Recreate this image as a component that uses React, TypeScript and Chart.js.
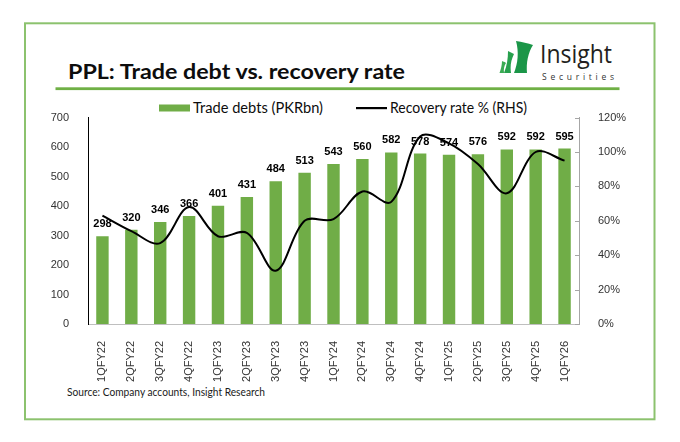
import React, { useEffect, useRef } from "react";
import { Chart, registerables } from "chart.js";

Chart.register(...registerables);

const categories = [
  "1QFY22", "2QFY22", "3QFY22", "4QFY22", "1QFY23", "2QFY23", "3QFY23", "4QFY23",
  "1QFY24", "2QFY24", "3QFY24", "4QFY24", "1QFY25", "2QFY25", "3QFY25", "4QFY25", "1QFY26",
];
const tradeDebts = [298, 320, 346, 366, 401, 431, 484, 513, 543, 560, 582, 578, 574, 576, 592, 592, 595];
const recoveryRate = [63, 54, 47, 68, 51, 53, 31, 60, 61, 77, 71, 109, 105, 93, 76, 100, 95];
const leftTicks = [0, 100, 200, 300, 400, 500, 600, 700];
const rightTicks = [0, 20, 40, 60, 80, 100, 120];
const seriesNames = ["Trade debts (PKRbn)", "Recovery rate % (RHS)"];
const titleText = "PPL: Trade debt vs. recovery rate";
const sourceText = "Source: Company accounts, Insight Research";

const GREEN = "#70ad47";
const AXIS_FONT = '"Liberation Sans", Arial, sans-serif';

const barLabels = {
  id: "barLabels",
  afterDatasetDraw(chart: any, args: any) {
    if (args.index !== 0) return;
    const ctx = chart.ctx;
    const meta = chart.getDatasetMeta(0);
    ctx.save();
    ctx.font = `bold 11px ${AXIS_FONT}`;
    ctx.fillStyle = "#000";
    ctx.textAlign = "center";
    ctx.textBaseline = "alphabetic";
    meta.data.forEach((el: any, i: number) => {
      ctx.fillText(String(chart.data.datasets[0].data[i]), el.x, el.y - 9);
    });
    ctx.restore();
  },
};

const rightTickMarks = {
  id: "rightTickMarks",
  afterDraw(chart: any) {
    const s = chart.scales.y1;
    const ctx = chart.ctx;
    ctx.save();
    ctx.strokeStyle = "#a6a6a6";
    ctx.lineWidth = 1;
    s.ticks.forEach((t: any) => {
      const y = Math.round(s.getPixelForValue(t.value)) + 0.5;
      ctx.beginPath();
      ctx.moveTo(s.left - 4, y);
      ctx.lineTo(s.left, y);
      ctx.stroke();
    });
    ctx.restore();
  },
};

function ChartCanvas() {
  const ref = useRef<HTMLCanvasElement | null>(null);
  useEffect(() => {
    if (!ref.current) return;
    const chart = new Chart(ref.current, {
      type: "bar",
      data: {
        labels: categories,
        datasets: [
          {
            type: "bar",
            label: seriesNames[0],
            data: tradeDebts,
            backgroundColor: GREEN,
            borderWidth: 0,
            categoryPercentage: 1,
            barPercentage: 0.43,
            yAxisID: "y",
            order: 1,
          },
          {
            type: "line",
            label: seriesNames[1],
            data: recoveryRate,
            borderColor: "#000",
            borderWidth: 2,
            pointRadius: 0,
            tension: 0.35,
            yAxisID: "y1",
            order: 0,
          } as any,
        ],
      },
      options: {
        responsive: false,
        animation: false,
        devicePixelRatio: 1,
        layout: { padding: { top: 9, left: 0, right: 0, bottom: 0 } },
        plugins: {
          legend: { display: false },
          tooltip: { enabled: false },
          title: { display: false },
        },
        scales: {
          x: {
            offset: true,
            grid: { display: false },
            border: { display: true, color: "#bfbfbf", width: 1 },
            ticks: {
              autoSkip: false,
              maxRotation: 90,
              minRotation: 90,
              padding: 9,
              color: "#333",
              font: { family: AXIS_FONT, size: 11 },
            },
            afterFit: (s: any) => {
              s.height = 66;
            },
          },
          y: {
            position: "left",
            min: 0,
            max: 700,
            grid: { display: false },
            border: { display: true, color: "#000", width: 1 },
            ticks: { padding: 11, color: "#333", font: { family: AXIS_FONT, size: 11 } },
            afterBuildTicks: (s: any) => {
              s.ticks = leftTicks.map((v) => ({ value: v }));
            },
            afterFit: (s: any) => {
              s.width = 60;
            },
          },
          y1: {
            position: "right",
            min: 0,
            max: 120,
            grid: { display: false },
            border: { display: true, color: "#a6a6a6", width: 1 },
            ticks: {
              padding: 11,
              color: "#333",
              font: { family: AXIS_FONT, size: 11 },
              callback: (v: any) => `${v}%`,
            },
            afterBuildTicks: (s: any) => {
              s.ticks = rightTicks.map((v) => ({ value: v }));
            },
            afterFit: (s: any) => {
              s.width = 49;
            },
          },
        },
      } as any,
      plugins: [barLabels, rightTickMarks],
    });
    return () => chart.destroy();
  }, []);
  return (
    <canvas
      ref={ref}
      width={600}
      height={290}
      style={{ position: "absolute", left: 28, top: 100, width: 600, height: 290 }}
    />
  );
}

function Decor() {
  return (
    <svg
      width={680}
      height={442}
      style={{ position: "absolute", left: 0, top: 0 }}
      xmlns="http://www.w3.org/2000/svg"
    >
      <rect x={25} y={23.3} width={629.5} height={396} fill="#fff" stroke="#8cc26e" strokeWidth={2} />
      <text
        x={68}
        y={79}
        fontFamily="Lato, 'Open Sans', sans-serif"
        fontWeight={700}
        fontSize={21}
        fill="#0d0d0d"
        textLength={337}
        lengthAdjust="spacingAndGlyphs"
      >
        {titleText}
      </text>
      <rect x={55.5} y={87.3} width={564} height={2.8} fill="#6fb045" />
      {/* logo */}
      <path d="M516,41 C522,42 528,43 533,45 C528,53 526,63 527,73 L514,73 C518,63 519,52 516,41 Z" fill="#1b9648" />
      <path d="M508,51 C510,52 512,53 514,54 C511,60 510,66 511,73 L504,73 C507,66 508,58 508,51 Z" fill="#27a04d" />
      <path d="M502,61 C503,61.5 505,62 506,63 C504,66 503.5,69 504,73 L499.5,73 C501,69 502,65 502,61 Z" fill="#3aab53" />
      <text
        x={540}
        y={63}
        fontFamily="'Open Sans', Lato, sans-serif"
        fontSize={25}
        fill="#231f20"
        textLength={72}
        lengthAdjust="spacingAndGlyphs"
      >
        Insight
      </text>
      <text
        x={542}
        y={80}
        fontFamily="'Open Sans', Lato, sans-serif"
        fontSize={8.5}
        fill="#333"
        textLength={72}
        lengthAdjust="spacing"
      >
        Securities
      </text>
      {/* legend */}
      <rect x={159} y={104.5} width={31} height={7} fill={GREEN} />
      <text
        x={193}
        y={112.5}
        fontFamily="Lato, 'Open Sans', sans-serif"
        fontSize={14.5}
        fill="#0d0d0d"
        textLength={130}
        lengthAdjust="spacingAndGlyphs"
      >
        {seriesNames[0]}
      </text>
      <rect x={356} y={107} width={31} height={2.2} fill="#000" />
      <text
        x={390}
        y={112.5}
        fontFamily="Lato, 'Open Sans', sans-serif"
        fontSize={14.5}
        fill="#0d0d0d"
        textLength={137}
        lengthAdjust="spacingAndGlyphs"
      >
        {seriesNames[1]}
      </text>
      <text
        x={67}
        y={395.5}
        fontFamily="Lato, 'Open Sans', sans-serif"
        fontSize={11}
        fill="#1a1a1a"
        textLength={198}
        lengthAdjust="spacingAndGlyphs"
      >
        {sourceText}
      </text>
    </svg>
  );
}

export default function App() {
  return (
    <div
      style={{
        position: "absolute",
        left: 0,
        top: 0,
        width: 680,
        height: 442,
        background: "#fff",
        overflow: "hidden",
      }}
    >
      <Decor />
      <ChartCanvas />
    </div>
  );
}
